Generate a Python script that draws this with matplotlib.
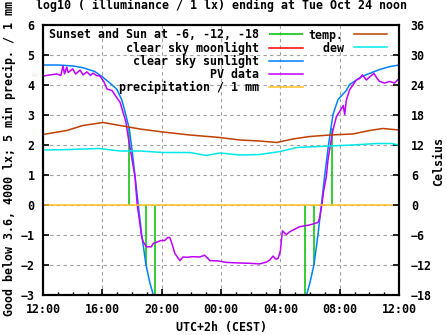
import matplotlib
matplotlib.use('Agg')
import matplotlib.pyplot as plt
from matplotlib.lines import Line2D

# hours after Mon 12:00 (CEST)
sun_h = [0, 1.0, 2.0, 2.69, 3.5, 4.04, 4.51, 4.98, 5.3, 5.5, 5.65, 5.81, 6.04, 6.42, 6.65, 6.94, 7.2, 7.43, 7.55,
         float('nan'),
         17.65, 17.78, 18.0, 18.27, 18.54, 18.77, 19.0, 19.25, 19.55, 19.89, 20.45, 20.67, 21.5, 22.7, 23.4, 24.0]
sun_v = [4.65, 4.65, 4.62, 4.56, 4.43, 4.24, 4.05, 3.84, 3.5, 3.15, 2.85, 2.54, 1.67, 0.0, -1.0, -2.0, -2.6, -3.0, -3.3,
         float('nan'),
         -3.3, -3.0, -2.6, -2.0, -1.0, 0.0, 1.0, 2.0, 3.0, 3.5, 3.8, 4.0, 4.27, 4.5, 4.6, 4.65]

pv_h = [0, 0.47, 0.94, 1.2, 1.35, 1.45, 1.6, 1.7, 2.0, 2.2, 2.5, 2.7, 2.96, 3.2, 3.37, 3.6, 3.84, 4.1, 4.31, 4.65,
        4.92, 5.2, 5.35, 5.59, 5.74, 5.97, 6.2, 6.35, 6.53, 6.65, 6.75, 6.98, 7.3, 7.43, 7.7, 7.95, 8.2, 8.42, 8.55,
        8.69, 8.89, 9.23, 9.43, 9.68, 10.1, 10.57, 10.9, 11.25, 11.78, 12.37, 13.27, 13.94, 14.61, 15.06, 15.29,
        15.51, 15.69, 15.85, 16.0, 16.14, 16.41, 16.63, 16.86, 17.31, 17.98, 18.54, 18.65, 18.8, 18.93, 19.1, 19.21,
        19.39, 19.55, 19.78, 20.0, 20.24, 20.34, 20.45, 20.67, 21.12, 21.35, 21.53, 21.8, 22.02, 22.31, 22.5, 22.69,
        23.03, 23.37, 23.7, 24.0]
pv_v = [4.28, 4.32, 4.35, 4.3, 4.62, 4.35, 4.58, 4.4, 4.52, 4.35, 4.48, 4.32, 4.42, 4.3, 4.38, 4.3, 4.28, 4.1, 3.85,
        3.8, 3.6, 3.4, 3.15, 2.75, 2.26, 1.6, 0.93, 0.0, -0.63, -1.07, -1.24, -1.41, -1.41, -1.3, -1.25, -1.2, -1.2,
        -1.1, -1.1, -1.3, -1.63, -1.87, -1.75, -1.76, -1.74, -1.75, -1.69, -1.87, -1.88, -1.93, -1.95, -1.96, -1.98,
        -1.92, -1.85, -1.72, -1.82, -1.8, -1.55, -0.88, -1.0, -0.91, -0.85, -0.74, -0.68, -0.6, -0.45, 0.0, 0.48,
        0.93, 1.48, 2.04, 2.48, 2.93, 3.1, 3.3, 3.0, 3.48, 3.82, 4.15, 4.2, 4.32, 4.15, 4.25, 4.37, 4.22, 4.1, 4.05,
        4.1, 4.05, 4.2]

moon_h = []
moon_v = []

twilight_h = [5.81, 6.96, 7.56, 17.66, 18.27, 19.48]
twilight_v = [2.55, -2.0, -3.0, -3.0, -2.0, 2.55]

precip_h = [0, 6, 12, 18, 24]
precip_v = [0, 0, 0, 0, 0]

temp_h = [0, 1.6, 2.69, 4.04, 5.19, 6.53, 8.08, 9.9, 11.92, 13.27, 14.6, 15.76, 16.84, 17.98, 19.33, 20.88, 22.02,
          22.9, 24.0]
temp_c = [14.0, 14.8, 15.8, 16.4, 15.8, 15.1, 14.5, 13.9, 13.4, 12.9, 12.7, 12.4, 13.1, 13.6, 13.9, 14.1, 14.8,
          15.2, 14.9]

dew_h = [0, 1.82, 3.8, 5.19, 6.53, 8.08, 9.9, 11.0, 11.92, 13.27, 14.6, 16.0, 17.1, 17.78, 19.33, 20.88, 22.5,
         23.5, 24.0]
dew_c = [10.9, 11.0, 11.2, 10.7, 10.7, 10.4, 10.4, 9.8, 10.3, 9.9, 10.0, 10.6, 11.4, 11.5, 11.7, 11.9, 12.2,
         12.2, 11.9]

xticks = [0, 4, 8, 12, 16, 20, 24]
xlabels = ['12:00', '16:00', '20:00', '00:00', '04:00', '08:00', '12:00']

FONT = 'DejaVu Sans Mono'
FS = 8.4
plt.rcParams['font.family'] = FONT
plt.rcParams['font.weight'] = 'bold'
plt.rcParams['font.size'] = FS

fig = plt.figure(figsize=(4.47, 3.35), dpi=100)
ax = fig.add_axes([43 / 447, 40.5 / 335, 356 / 447, 270 / 335])
ax2 = ax.twinx()

lw = 1.1
h_sunset = ax.vlines(twilight_h, 0, twilight_v, colors='#00c000', lw=lw, label='Sunset and Sun at -6, -12, -18')
h_moon, = ax.plot(moon_h, moon_v, color='#ff0000', lw=lw, label='clear sky moonlight')
h_sun, = ax.plot(sun_h, sun_v, color='#0080ff', lw=lw, label='clear sky sunlight')
h_pv, = ax.plot(pv_h, pv_v, color='#c000ff', lw=lw, label='PV data')
h_pr, = ax.plot(precip_h, precip_v, color='#ffc020', lw=lw, label='precipitation / 1 mm')
h_t, = ax2.plot(temp_h, temp_c, color='#c04000', lw=lw, label='temp.')
h_d, = ax2.plot(dew_h, dew_c, color='#00e8e8', lw=lw, label='dew')

ax.set_xlim(0, 24)
ax.set_ylim(-3, 6)
ax2.set_ylim(-18, 36)
ax.set_xticks(xticks)
ax.set_xticklabels(xlabels)
ax.set_xticks(range(25), minor=True)
ax.set_yticks(range(-3, 7))
ax2.set_yticks(range(-18, 37, 6))

ax.grid(True, color='#a0a0a0', lw=0.8, ls=(0, (3, 3)))
ax.tick_params(axis='x', which='major', direction='in', length=4, width=1.2, pad=6)
ax.tick_params(axis='x', which='minor', direction='in', length=2.5, width=1.0)
ax.tick_params(axis='y', direction='in', length=4, width=1.2, pad=6)
ax2.tick_params(axis='y', direction='in', length=4, width=1.2, pad=8.5)
for a in (ax, ax2):
    for s in a.spines.values():
        s.set_linewidth(1.5)

blank = Line2D([], [], color='none')
handles = [h_sunset, h_moon, h_sun, h_pv, h_pr, h_t, h_d, blank, blank, blank]
labels = [h.get_label() if h is not blank else '' for h in handles]
labels = [l.rjust(30) for l in labels[:5]] + [l.rjust(5) for l in labels[5:7]] + ['', '', '']
leg = ax2.legend(handles, labels, ncol=2, loc='upper left', bbox_to_anchor=(6 / 356, 1 - 4 / 270),
                 frameon=False, markerfirst=False, borderpad=0, borderaxespad=0,
                 handlelength=2.9, handletextpad=0.85, columnspacing=0.5, labelspacing=0.0,
                 prop={'family': FONT, 'weight': 'bold', 'size': FS})

fig.text(221 / 447, 1 - 5 / 335, 'log10 ( illuminance / 1 lx) ending at Tue Oct 24 noon',
         ha='center', va='center')
fig.text(221 / 447, 7 / 335, 'UTC+2h (CEST)', ha='center', va='center')
fig.text(9 / 447, 1 - 158 / 335, 'Good below 3.6, 4000 lx; 5 min precip. / 1 mm',
         ha='center', va='center', rotation=90)
fig.text(439 / 447, 1 - 161 / 335, 'Celsius', ha='center', va='center', rotation=90)

fig.savefig('out.png', dpi=100)
